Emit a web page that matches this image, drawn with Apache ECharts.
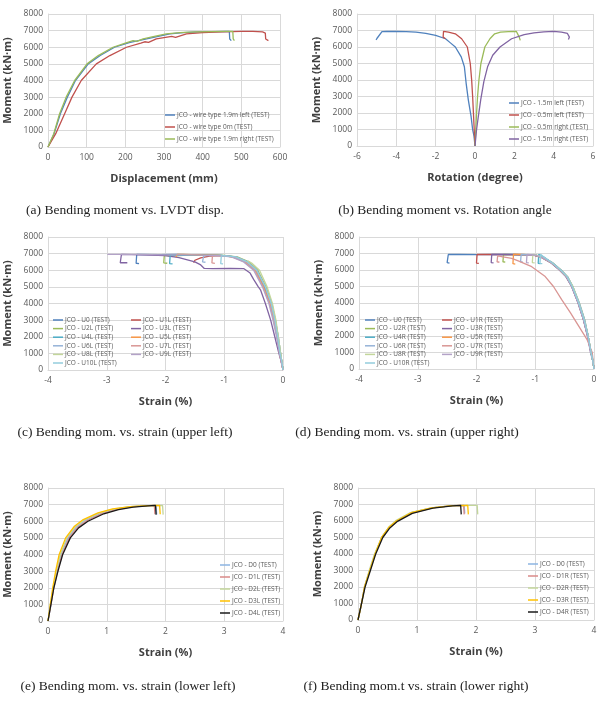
<!DOCTYPE html>
<html><head><meta charset="utf-8">
<script src="https://cdn.jsdelivr.net/npm/echarts@6/dist/echarts.min.js"></script>
<style>html,body{margin:0;padding:0;background:#fff}#c{width:615px;height:701px}</style>
</head><body><div id="c"></div>
<script>
// ---------- (a) Moment vs displacement ----------
const a_names = ['JCO - wire type 1.9m left (TEST)','JCO - wire type 0m (TEST)','JCO - wire type 1.9m right (TEST)'];
const a_left = [[0,0],[15,750],[32,2000],[50,3000],[71,4000],[104,5000],[135,5500],[172,6000],[210,6280],[255,6500],[285,6650],[315,6800],[350,6880],[390,6920],[430,6940],[469,6950],[470,6500],[474,6400]];
const a_mid = [[0,0],[20,800],[43,2000],[62,3000],[86,4000],[125,5000],[160,5500],[203,6000],[240,6250],[250,6330],[260,6290],[280,6500],[320,6650],[330,6600],[358,6800],[400,6880],[450,6920],[500,6950],[530,6960],[555,6920],[562,6850],[563,6500],[570,6400]];
const a_right = [[0,0],[15,800],[30,2000],[47,3000],[69,4000],[101,5000],[130,5500],[168,6000],[200,6250],[220,6400],[230,6350],[246,6500],[275,6650],[306,6800],[341,6880],[380,6920],[420,6940],[460,6950],[478,6950],[479,6500],[482,6400]];

// ---------- (b) Moment vs rotation ----------
const b_names = ['JCO - 1.5m left (TEST)','JCO - 0.5m left (TEST)','JCO - 0.5m right (TEST)','JCO - 1.5m right (TEST)'];
const b_left15 = [[0,0],[-0.05,600],[-0.12,1000],[-0.2,1800],[-0.34,2800],[-0.45,3800],[-0.54,4800],[-0.7,5400],[-1.0,6000],[-1.25,6250],[-1.5,6500],[-2.0,6700],[-2.5,6820],[-3.0,6900],[-3.5,6930],[-4.0,6950],[-4.5,6940],[-4.73,6930],[-4.98,6530],[-5.03,6430]];
const b_left05 = [[0,0],[-0.04,1000],[-0.08,2000],[-0.12,3000],[-0.17,4000],[-0.24,5000],[-0.39,6000],[-0.68,6500],[-1.0,6800],[-1.35,6900],[-1.6,6950],[-1.62,6600],[-1.5,6500]];
const b_right05 = [[0,0],[0.04,1000],[0.08,2000],[0.13,3000],[0.2,4000],[0.3,5000],[0.5,6000],[0.76,6500],[1.0,6800],[1.3,6900],[1.7,6930],[2.1,6950],[2.2,6900],[2.25,6600],[2.3,6400]];
const b_right15 = [[0,0],[0.08,1000],[0.17,1800],[0.29,2800],[0.45,3900],[0.64,4800],[0.9,5500],[1.27,6000],[1.86,6500],[2.5,6750],[3.0,6850],[3.5,6920],[4.0,6950],[4.4,6900],[4.7,6820],[4.8,6600],[4.75,6450]];

// ---------- (c) Moment vs strain, upper left ----------
const c_names = ['JCO - U0 (TEST)','JCO - U1L (TEST)','JCO - U2L (TEST)','JCO - U3L (TEST)','JCO - U4L (TEST)','JCO - U5L (TEST)','JCO - U6L (TEST)','JCO - U7L (TEST)','JCO - U8L (TEST)','JCO - U9L (TEST)','JCO - U10L (TEST)'];
const c_U0 = [[0,0],[-0.02,500],[-0.05,1000],[-0.09,2000],[-0.14,3000],[-0.21,4000],[-0.31,5000],[-0.45,6000],[-0.62,6500],[-0.82,6800],[-1.05,6900],[-1.4,6930],[-1.8,6950],[-2.1,6940],[-2.49,6950],[-2.5,6420],[-2.45,6400]];
const c_U1L = [[0,0],[-0.03,500],[-0.06,1000],[-0.1,2000],[-0.15,3000],[-0.22,4000],[-0.32,5000],[-0.47,6000],[-0.64,6500],[-0.85,6800],[-1.05,6880],[-1.25,6850],[-1.4,6750],[-1.5,6600],[-1.52,6450]];
const c_U2L = [[0,0],[-0.02,500],[-0.04,1000],[-0.08,2000],[-0.13,3000],[-0.19,4000],[-0.29,5000],[-0.43,6000],[-0.58,6500],[-0.78,6800],[-1.0,6900],[-1.4,6930],[-1.7,6900],[-1.9,6850],[-2.02,6900],[-2.03,6450],[-1.97,6420]];
const c_U3L = [[0,0],[-0.03,500],[-0.07,1000],[-0.14,2000],[-0.21,3000],[-0.3,4000],[-0.38,4800],[-0.42,5000],[-0.5,5450],[-0.56,5830],[-0.67,6100],[-0.9,6110],[-1.2,6100],[-1.34,6110],[-1.4,6320],[-1.5,6500],[-1.77,6760],[-2.0,6880],[-2.4,6920],[-2.75,6950],[-2.77,6450],[-2.65,6450]];
const c_U4L = [[0,0],[-0.02,500],[-0.05,1000],[-0.09,2000],[-0.15,3000],[-0.21,4000],[-0.32,5000],[-0.46,6000],[-0.62,6500],[-0.83,6800],[-1.05,6900],[-1.4,6930],[-1.7,6900],[-1.92,6920],[-1.93,6400],[-1.88,6380]];
const c_U5L = [[0,0],[-0.02,500],[-0.05,1000],[-0.1,2000],[-0.15,3000],[-0.22,4000],[-0.33,5000],[-0.47,6000],[-0.63,6500],[-0.84,6800],[-1.1,6900],[-1.4,6920],[-1.7,6950],[-1.8,6960],[-1.82,6800]];
const c_U6L = [[0,0],[-0.02,500],[-0.04,1000],[-0.08,2000],[-0.13,3000],[-0.2,4000],[-0.3,5000],[-0.44,6000],[-0.6,6500],[-0.8,6800],[-1.0,6880],[-1.2,6900],[-1.35,6880],[-1.37,6500],[-1.32,6480]];
const c_U7L = [[0,0],[-0.03,500],[-0.06,1000],[-0.1,2000],[-0.16,3000],[-0.23,4000],[-0.34,5000],[-0.48,6000],[-0.65,6500],[-0.86,6800],[-1.05,6880],[-1.2,6900],[-1.21,6450],[-1.16,6420]];
const c_U8L = [[0,0],[-0.02,500],[-0.04,1000],[-0.08,2000],[-0.12,3000],[-0.18,4000],[-0.27,5000],[-0.4,6000],[-0.52,6400],[-0.6,6560]];
const c_U9L = [[0,0],[-0.03,500],[-0.06,1000],[-0.11,2000],[-0.17,3000],[-0.24,4000],[-0.35,5000],[-0.5,6000],[-0.67,6500],[-0.88,6800],[-1.1,6880],[-1.5,6920],[-2.0,6930],[-2.5,6950],[-2.99,6960]];
const c_U10L = [[0,0],[-0.02,500],[-0.05,1000],[-0.09,2000],[-0.14,3000],[-0.2,4000],[-0.3,5000],[-0.45,6000],[-0.61,6500],[-0.81,6800],[-1.0,6880],[-1.05,6870],[-1.06,6400],[-1.02,6380]];

// ---------- (d) Moment vs strain, upper right ----------
const d_names = ['JCO - U0 (TEST)','JCO - U1R (TEST)','JCO - U2R (TEST)','JCO - U3R (TEST)','JCO - U4R (TEST)','JCO - U5R (TEST)','JCO - U6R (TEST)','JCO - U7R (TEST)','JCO - U8R (TEST)','JCO - U9R (TEST)','JCO - U10R (TEST)'];
const d_U0 = [[0,0],[-0.02,500],[-0.05,1000],[-0.1,2000],[-0.17,3000],[-0.26,4000],[-0.37,5000],[-0.46,5600],[-0.57,6000],[-0.72,6450],[-0.87,6750],[-1.0,6920],[-1.3,6940],[-1.7,6950],[-2.0,6930],[-2.3,6950],[-2.48,6940],[-2.5,6450],[-2.46,6420]];
const d_U1R = [[0,0],[-0.02,500],[-0.05,1000],[-0.11,2000],[-0.18,3000],[-0.27,4000],[-0.38,5000],[-0.47,5600],[-0.58,6000],[-0.73,6450],[-0.88,6750],[-1.02,6900],[-1.4,6930],[-1.8,6950],[-1.99,6940],[-2.0,6420],[-1.96,6400]];
const d_U2R = [[0,0],[-0.02,500],[-0.05,1000],[-0.1,2000],[-0.16,3000],[-0.25,4000],[-0.36,5000],[-0.45,5600],[-0.56,6000],[-0.71,6450],[-0.86,6750],[-1.0,6920],[-1.3,6930],[-1.54,6950],[-1.55,6500],[-1.51,6480]];
const d_U3R = [[0,0],[-0.02,500],[-0.06,1000],[-0.11,2000],[-0.18,3000],[-0.27,4000],[-0.38,5000],[-0.48,5600],[-0.59,6000],[-0.74,6450],[-0.89,6750],[-1.03,6900],[-1.4,6940],[-1.74,6950],[-1.75,6450],[-1.71,6430]];
const d_U4R = [[0,0],[-0.02,500],[-0.05,1000],[-0.1,2000],[-0.17,3000],[-0.26,4000],[-0.37,5000],[-0.46,5600],[-0.57,6000],[-0.72,6450],[-0.86,6800],[-0.94,6950],[-0.95,6400],[-0.91,6380]];
const d_U5R = [[0,0],[-0.02,500],[-0.05,1000],[-0.1,2000],[-0.17,3000],[-0.26,4000],[-0.37,5000],[-0.47,5600],[-0.58,6000],[-0.73,6450],[-0.88,6750],[-1.02,6900],[-1.2,6940],[-1.37,6960],[-1.38,6380],[-1.34,6360]];
const d_U6R = [[0,0],[-0.02,500],[-0.05,1000],[-0.1,2000],[-0.16,3000],[-0.25,4000],[-0.36,5000],[-0.45,5600],[-0.56,6000],[-0.71,6450],[-0.86,6750],[-1.0,6920],[-1.24,6940],[-1.25,6500],[-1.21,6480]];
const d_U7R = [[0,0],[-0.03,1000],[-0.12,1800],[-0.26,2600],[-0.4,3400],[-0.55,4200],[-0.69,5000],[-0.83,5600],[-1.06,6200],[-1.29,6550],[-1.4,6700],[-1.55,6800],[-1.64,6850],[-1.65,6500],[-1.61,6470]];
const d_U8R = [[0,0],[-0.02,500],[-0.05,1000],[-0.1,2000],[-0.17,3000],[-0.26,4000],[-0.36,5000],[-0.46,5600],[-0.57,6000],[-0.72,6450],[-0.87,6750],[-1.0,6920],[-1.04,6940],[-1.05,6450],[-1.01,6430]];
const d_U9R = [[0,0],[-0.02,500],[-0.05,1000],[-0.11,2000],[-0.18,3000],[-0.27,4000],[-0.38,5000],[-0.47,5600],[-0.58,6000],[-0.73,6450],[-0.88,6750],[-1.02,6910],[-1.14,6940],[-1.15,6450],[-1.11,6430]];
const d_U10R = [[0,0],[-0.02,500],[-0.05,1000],[-0.1,2000],[-0.17,3000],[-0.26,4000],[-0.37,5000],[-0.46,5600],[-0.57,6000],[-0.72,6450],[-0.86,6800],[-0.91,6950],[-0.92,6400],[-0.88,6380]];

// ---------- (e) Moment vs strain, lower left ----------
const e_names = ['JCO - D0 (TEST)','JCO - D1L (TEST)','JCO - D2L (TEST)','JCO - D3L (TEST)','JCO - D4L (TEST)'];
const e_D0 = [[0,0],[0.05,1000],[0.09,2000],[0.15,3000],[0.22,4000],[0.34,5000],[0.48,5650],[0.63,6050],[0.9,6480],[1.15,6730],[1.4,6870],[1.65,6930],[1.84,6950],[1.85,6400]];
const e_D1L = [[0,0],[0.05,1000],[0.1,2000],[0.16,3000],[0.24,4000],[0.36,5000],[0.5,5620],[0.66,6030],[0.92,6460],[1.18,6720],[1.42,6860],[1.66,6930],[1.81,6950],[1.82,6420]];
const e_D2L = [[0,0],[0.04,1000],[0.09,2000],[0.14,3000],[0.21,4000],[0.32,5000],[0.47,5680],[0.62,6080],[0.88,6500],[1.13,6750],[1.4,6880],[1.7,6940],[1.95,6950],[1.96,6400]];
const e_D3L = [[0,0],[0.04,1000],[0.08,2000],[0.13,3000],[0.19,4000],[0.3,5000],[0.45,5700],[0.6,6100],[0.85,6500],[1.1,6750],[1.4,6880],[1.7,6940],[1.9,6950],[1.91,6420]];
const e_D4L = [[0,0],[0.05,1000],[0.1,2000],[0.17,3000],[0.25,4000],[0.38,5000],[0.52,5600],[0.68,6000],[0.95,6450],[1.2,6700],[1.45,6850],[1.7,6930],[1.83,6950],[1.84,6400]];

// ---------- (f) Moment vs strain, lower right ----------
const f_names = ['JCO - D0 (TEST)','JCO - D1R (TEST)','JCO - D2R (TEST)','JCO - D3R (TEST)','JCO - D4R (TEST)'];
const f_D0 = [[0,0],[0.06,1000],[0.11,2000],[0.2,3000],[0.29,4000],[0.4,5000],[0.52,5600],[0.65,6000],[0.9,6500],[1.25,6800],[1.6,6930],[1.8,6950],[1.81,6450]];
const f_D1R = [[0,0],[0.06,1000],[0.11,2000],[0.2,3000],[0.29,4000],[0.41,5000],[0.53,5600],[0.66,6000],[0.91,6480],[1.26,6790],[1.6,6930],[1.79,6950],[1.8,6400]];
const f_D2R = [[0,0],[0.06,1000],[0.11,2000],[0.19,3000],[0.28,4000],[0.4,5000],[0.52,5620],[0.64,6020],[0.89,6510],[1.24,6800],[1.6,6930],[1.9,6950],[2.02,6950],[2.03,6400]];
const f_D3R = [[0,0],[0.06,1000],[0.11,2000],[0.2,3000],[0.29,4000],[0.4,5000],[0.52,5600],[0.65,6000],[0.9,6500],[1.25,6800],[1.6,6930],[1.86,6950],[1.87,6400]];
const f_D4R = [[0,0],[0.06,1000],[0.12,2000],[0.21,3000],[0.3,4000],[0.42,5000],[0.54,5580],[0.67,5980],[0.92,6460],[1.27,6780],[1.6,6920],[1.74,6950],[1.75,6400]];

const captions = ['(a) Bending moment vs. LVDT disp.','(b) Bending moment vs. Rotation angle','(c) Bending mom. vs. strain (upper left)','(d) Bending mom. vs. strain (upper right)','(e) Bending mom. vs. strain (lower left)','(f) Bending mom.t vs. strain (lower right)'];

const excel = ['#4F81BD','#C0504D','#9BBB59','#8064A2','#4BACC6','#F79646','#95B3D7','#D99694','#C3D69B','#B3A2C7','#93CDDD'];
const eCols = ['#8DB4E2','#DA8A88','#C3D69B','#FFC000','#1a1a1a'];

const chart = echarts.init(document.getElementById('c'));
const grids = [
  {left:48, top:14, width:232, height:133},
  {left:357, top:14, width:236, height:132},
  {left:48, top:237, width:235, height:133},
  {left:359, top:237, width:235, height:132},
  {left:48, top:488, width:235, height:133},
  {left:358, top:488, width:236, height:132}
];
const xr = [[0,600,100,'Displacement (mm)'],[-6,6,2,'Rotation (degree)'],[-4,0,1,'Strain (%)'],[-4,0,1,'Strain (%)'],[0,4,1,'Strain (%)'],[0,4,1,'Strain (%)']];
const gridCol = '#d9d9d9', lab = '#595959';
const plain = v => String(v);
const xAxis = xr.map((r,i)=>({type:'value', gridIndex:i, min:r[0], max:r[1], interval:r[2],
  name:r[3], nameLocation:'middle', nameGap:26,
  nameTextStyle:{fontFamily:'Open Sans', fontWeight:'bold', fontSize:11, color:'#404040'},
  axisLine:{show:true, onZero:false, lineStyle:{color:gridCol}}, axisTick:{show:false},
  axisLabel:{fontFamily:'Open Sans', fontSize:8.5, color:lab, margin:6, formatter:plain},
  splitLine:{show:true, lineStyle:{color:gridCol, width:1}}}));
const yAxis = grids.map((g,i)=>({type:'value', gridIndex:i, min:0, max:8000, interval:1000,
  name:'Moment (kN·m)', nameLocation:'middle', nameGap:35,
  nameTextStyle:{fontFamily:'Open Sans', fontWeight:'bold', fontSize:11, color:'#404040'},
  axisLine:{show:true, onZero:false, lineStyle:{color:gridCol}}, axisTick:{show:false},
  axisLabel:{fontFamily:'Open Sans', fontSize:8.5, color:lab, margin:5, formatter:plain},
  splitLine:{show:true, lineStyle:{color:gridCol, width:1}}}));

const series = [];
function add(gi, name, data, color){
  series.push({type:'line', name:name, xAxisIndex:gi, yAxisIndex:gi, data:data, showSymbol:false,
    symbol:'none', lineStyle:{color:color, width:1.3}, itemStyle:{color:color}, animation:false, z: 2});
}
[a_left,a_mid,a_right].forEach((d,i)=>add(0,a_names[i],d,excel[i]));
[b_left15,b_left05,b_right05,b_right15].forEach((d,i)=>add(1,b_names[i],d,excel[i]));
[c_U0,c_U1L,c_U2L,c_U3L,c_U4L,c_U5L,c_U6L,c_U7L,c_U8L,c_U9L,c_U10L].forEach((d,i)=>add(2,c_names[i],d,excel[i]));
[d_U0,d_U1R,d_U2R,d_U3R,d_U4R,d_U5R,d_U6R,d_U7R,d_U8R,d_U9R,d_U10R].forEach((d,i)=>add(3,d_names[i],d,excel[i]));
[e_D0,e_D1L,e_D2L,e_D3L,e_D4L].forEach((d,i)=>add(4,e_names[i],d,eCols[i]));
[f_D0,f_D1R,f_D2R,f_D3R,f_D4R].forEach((d,i)=>add(5,f_names[i],d,eCols[i]));

function leg(left, top, names, gap){
  return {orient:'vertical', left:left, top:top, data:names, icon:'rect', itemWidth:10, itemHeight:1.5,
    itemGap:gap, selectedMode:false, padding:0,
    textStyle:{fontFamily:'Open Sans', fontSize:6.5, color:lab, lineHeight:8, padding:[0,0,0,-3]}};
}
const odd = a=>a.filter((_,i)=>i%2===0), even = a=>a.filter((_,i)=>i%2===1);
const legend = [
  leg(165,111,a_names,4),
  leg(509,99,b_names,4),
  leg(53,316,odd(c_names),0.6),
  leg(131,316,even(c_names),0.6),
  leg(365,316,odd(d_names),0.6),
  leg(442,316,even(d_names),0.6),
  leg(220,561,e_names,4),
  leg(528,560,f_names,4)
];
const capPos = [[125,210],[445,210],[125,432],[407,432],[128,686],[416,686]];
const graphic = captions.map((t,i)=>({type:'text', x:capPos[i][0], y:capPos[i][1],
  style:{text:t, fontFamily:'Liberation Serif', fontSize:13.5, fill:'#222', textAlign:'center', textVerticalAlign:'middle'}}));

chart.setOption({animation:false, backgroundColor:'#fff', grid:grids, xAxis:xAxis, yAxis:yAxis, legend:legend, series:series, graphic:graphic});
</script></body></html>
